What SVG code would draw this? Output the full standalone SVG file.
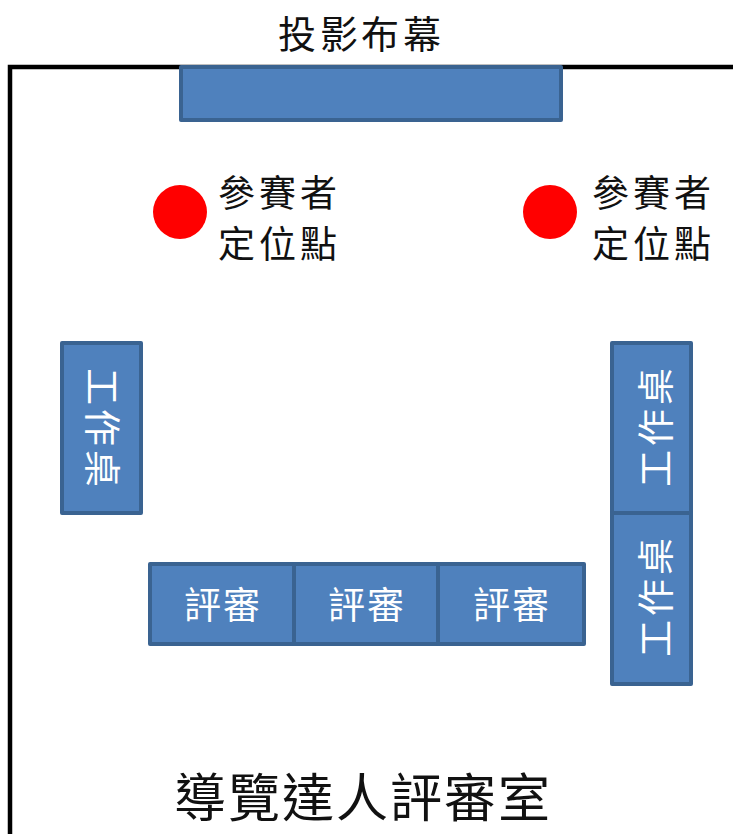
<svg xmlns="http://www.w3.org/2000/svg" width="733" height="834" viewBox="0 0 733 834">
<style>
text{font-family:"Noto Sans CJK TC","Noto Sans CJK SC",sans-serif;font-weight:400}
.k{fill:#111}
.w{fill:#fff}
.d{fill:#4f81bd;stroke:#3a6391;stroke-width:4;stroke-linejoin:round}
.s{font-size:37px}
.r{fill:#f00}
</style>
<rect width="733" height="834" fill="#fff"/>
<path id="walls" d="M733 67H10V834" fill="none" stroke="#000" stroke-width="4.5"/>
<g id="screen"><rect class="d" x="181" y="67" width="380" height="53"/></g>
<text id="screen-label" class="k" font-size="38" x="278 320 361 403" y="48">投影布幕</text>
<g id="point-left"><circle class="r" cx="180" cy="212" r="27"/>
<text class="k s" x="218 259 300" y="207">參賽者</text><text class="k s" x="218 259 300" y="258">定位點</text></g>
<g id="point-right"><circle class="r" cx="550" cy="212" r="27"/>
<text class="k s" x="592 633 674" y="207">參賽者</text><text class="k s" x="592 633 674" y="258">定位點</text></g>
<g id="desk-left"><rect class="d" x="62" y="343" width="79" height="170"/>
<text class="w s" transform="translate(88 368) rotate(90)" x="0 41 82" y="0">工作桌</text></g>
<g id="desk-right-1"><rect class="d" x="612" y="343" width="79" height="170"/>
<text class="w s" transform="translate(670 487) rotate(-90)" x="0 41 82" y="0">工作桌</text></g>
<g id="desk-right-2"><rect class="d" x="612" y="513" width="79" height="171"/>
<text class="w s" transform="translate(670 657) rotate(-90)" x="0 41 82" y="0">工作桌</text></g>
<g id="judge-1"><rect class="d" x="150" y="564" width="144" height="80"/><text class="w s" x="184 223" y="619">評審</text></g>
<g id="judge-2"><rect class="d" x="294" y="564" width="144" height="80"/><text class="w s" x="328 367" y="619">評審</text></g>
<g id="judge-3"><rect class="d" x="438" y="564" width="146" height="80"/><text class="w s" x="473 512" y="619">評審</text></g>
<text id="title" class="k" font-size="52" font-weight="500" x="174 228 282 336 390 444 498" y="817">導覽達人評審室</text>
</svg>
